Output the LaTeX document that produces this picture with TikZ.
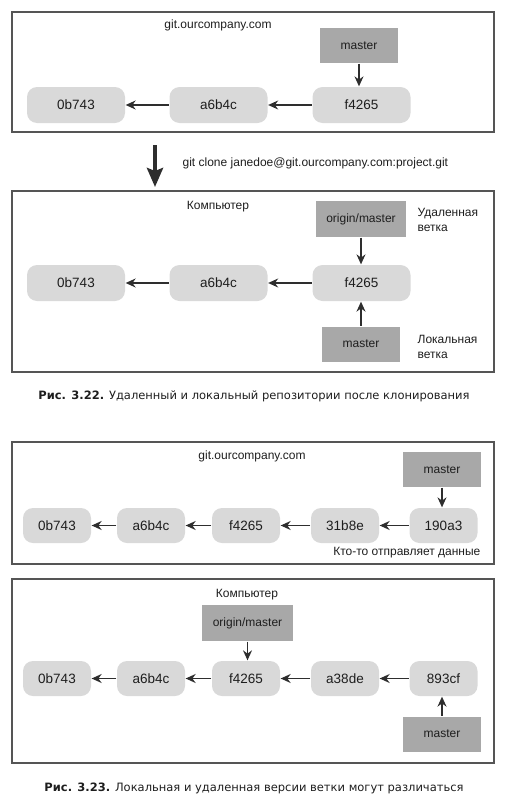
\documentclass[tikz,border=0pt]{standalone}
\usepackage{fontspec}
\setmainfont{Liberation Sans}
\newfontfamily\capfont{DejaVu Sans}
\usetikzlibrary{arrows.meta}
\definecolor{commitgray}{HTML}{D9D9D9}
\definecolor{branchgray}{HTML}{A8A8A8}
\definecolor{linkgray}{HTML}{2E2E2E}
\definecolor{framegray}{HTML}{555555}
\definecolor{textgray}{HTML}{1E1E1E}

\tikzset{every path/.style={line width=1.3pt}}
\tikzset{
  commit/.style={fill=commitgray, rounded corners=10pt, inner sep=0pt, text=textgray,
    minimum width=98pt, minimum height=36pt, font=\fontsize{13.5}{15}\selectfont},
  shortcommit/.style={commit, minimum width=68pt, minimum height=35pt},
  branch/.style={fill=branchgray, inner sep=0pt, minimum width=78pt, text=textgray,
    minimum height=35pt, font=\fontsize{12}{14}\selectfont},
  link/.style={draw=linkgray, -{Stealth[length=10pt,width=9pt]}},
  frame/.style={draw=framegray},
  label/.style={font=\fontsize{12}{14.5}\selectfont, inner sep=0pt, text=textgray},
  note/.style={label, align=left, anchor=west},
  caption/.style={font=\capfont\fontsize{11.5}{13}\selectfont, inner sep=0pt, text=textgray}
}

\begin{document}
\begin{tikzpicture}[x=1pt,y=-1pt]
\useasboundingbox (0,0) rectangle (507,806);

% server before clone
\draw[frame] (12,12) rectangle (494,132);
\node[label] (srvA) at (218,25) {git.ourcompany.com};
\node[branch] (mastA) at (359,45.5) {master};
\node[commit] (cA1) at (76,105) {0b743};
\node[commit] (cA2) at (218.5,105) {a6b4c};
\node[commit] (cA3) at (361.5,105) {f4265};
\draw[link] (cA2) -- (cA1);
\draw[link] (cA3) -- (cA2);
\draw[link] (mastA) -- (mastA |- cA3.north);

% clone
\coordinate (cloneTop) at (155,145);
\coordinate (cloneEnd) at (155,187);
\draw[draw=linkgray, line width=4.5pt, -{Stealth[length=19pt,width=16pt,inset=3pt]}] (cloneTop) -- (cloneEnd);
\node[label, anchor=west] (cloneCmd) at (182,163) {git clone janedoe@git.ourcompany.com:project.git};

% local after clone
\draw[frame] (12,191) rectangle (494,372);
\node[label] (pcB) at (218,207) {Компьютер};
\node[branch, minimum width=90pt, minimum height=36pt] (origB) at (361,219) {origin/master};
\node[commit] (cB1) at (76,283) {0b743};
\node[commit] (cB2) at (218.5,283) {a6b4c};
\node[commit] (cB3) at (361.5,283) {f4265};
\node[branch] (mastB) at (361,344) {master};
\node[note] (remNote) at (417,220) {Удаленная\\ветка};
\node[note] (locNote) at (417,347) {Локальная\\ветка};
\draw[link] (cB2) -- (cB1);
\draw[link] (cB3) -- (cB2);
\draw[link] (origB) -- (origB |- cB3.north);
\draw[link] (mastB) -- (mastB |- cB3.south);

\node[caption] (capA) at (254,396) {\textbf{Рис. 3.22.} Удаленный и локальный репозитории после клонирования};

% server after push
\draw[frame] (12,442) rectangle (494,564);
\node[label] (srvC) at (252,456) {git.ourcompany.com};
\node[branch] (mastC) at (442,469.5) {master};
\node[shortcommit] (cC1) at (57,525.5) {0b743};
\node[shortcommit] (cC2) at (151,525.5) {a6b4c};
\node[shortcommit] (cC3) at (246,525.5) {f4265};
\node[shortcommit] (cC4) at (345,525.5) {31b8e};
\node[shortcommit] (cC5) at (443.5,525.5) {190a3};
\node[label, anchor=east] (pushNote) at (481,553) {Кто-то отправляет данные};
\draw[link] (cC2) -- (cC1);
\draw[link] (cC3) -- (cC2);
\draw[link] (cC4) -- (cC3);
\draw[link] (cC5) -- (cC4);
\draw[link] (mastC) -- (mastC |- cC5.north);

% local with own commits
\draw[frame] (12,579) rectangle (494,763);
\node[label] (pcD) at (247,595) {Компьютер};
\node[branch, minimum width=91pt, minimum height=36pt] (origD) at (247.5,623) {origin/master};
\node[shortcommit] (cD1) at (57,678.5) {0b743};
\node[shortcommit] (cD2) at (151,678.5) {a6b4c};
\node[shortcommit] (cD3) at (246,678.5) {f4265};
\node[shortcommit] (cD4) at (345,678.5) {a38de};
\node[shortcommit] (cD5) at (443.5,678.5) {893cf};
\node[branch] (mastD) at (442,734) {master};
\draw[link] (cD2) -- (cD1);
\draw[link] (cD3) -- (cD2);
\draw[link] (cD4) -- (cD3);
\draw[link] (cD5) -- (cD4);
\draw[link] (origD) -- (origD |- cD3.north);
\draw[link] (mastD) -- (mastD |- cD5.south);

\node[caption] (capD) at (254,788) {\textbf{Рис. 3.23.} Локальная и удаленная версии ветки могут различаться};

\end{tikzpicture}
\end{document}
